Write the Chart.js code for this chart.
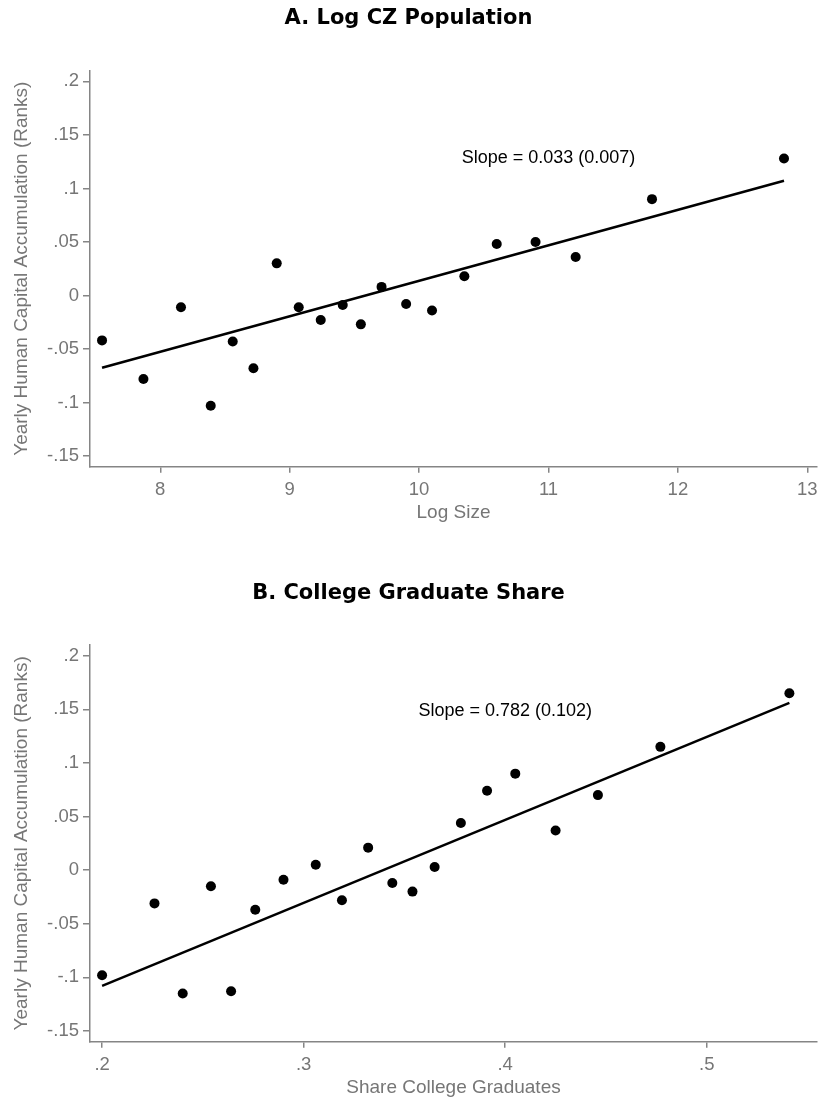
<!DOCTYPE html>
<html>
<head>
<meta charset="utf-8">
<script src="https://cdn.jsdelivr.net/npm/chart.js@4.4.1/dist/chart.umd.min.js"></script>
<style>
  body { margin: 0; background: #fff; width: 818px; height: 1101px; overflow: hidden; position: relative; }
  .box { position: absolute; left: 0; width: 830px; }
</style>
</head>
<body>
<div class="box" style="top:0;height:540px"><canvas id="chartA"></canvas></div>
<div class="box" style="top:540px;height:561px"><canvas id="chartB"></canvas></div>
<script>
// panel A: log CZ population
const popX = [7.55, 7.87, 8.16, 8.39, 8.56, 8.72, 8.90, 9.07, 9.24, 9.41, 9.55, 9.71, 9.90, 10.10, 10.35, 10.60, 10.90, 11.21, 11.80, 12.82];
const popY = [-0.042, -0.078, -0.011, -0.103, -0.043, -0.068, 0.030, -0.011, -0.023, -0.009, -0.027, 0.008, -0.008, -0.014, 0.018, 0.048, 0.050, 0.036, 0.090, 0.128];
const popFitX = [7.55, 12.82];
const popFitY = [-0.0675, 0.1072];
const popTicks = [8, 9, 10, 11, 12, 13];
const popTickLabels = ["8", "9", "10", "11", "12", "13"];

// panel B: college graduate share
const shareX = [0.200, 0.226, 0.240, 0.254, 0.264, 0.276, 0.290, 0.306, 0.319, 0.332, 0.344, 0.354, 0.365, 0.378, 0.391, 0.405, 0.425, 0.446, 0.477, 0.541];
const shareY = [-0.098, -0.031, -0.115, -0.015, -0.113, -0.037, -0.009, 0.005, -0.028, 0.021, -0.012, -0.020, 0.003, 0.044, 0.074, 0.090, 0.037, 0.070, 0.115, 0.165];
const shareFitX = [0.200, 0.541];
const shareFitY = [-0.108, 0.156];
const shareTicks = [0.2, 0.3, 0.4, 0.5];
const shareTickLabels = [".2", ".3", ".4", ".5"];

const yTicks = [-0.15, -0.1, -0.05, 0, 0.05, 0.1, 0.15, 0.2];
const yTickLabels = ["-.15", "-.1", "-.05", "0", ".05", ".1", ".15", ".2"];
const yTitle = "Yearly Human Capital Accumulation (Ranks)";

const SANS = '"Liberation Sans", Arial, sans-serif';
const GREY = "#858585";
const LABEL = "#767676";

const slopeLabel = {
    id: "slopeLabel",
    afterDatasetsDraw(chart, args, opts) {
        const { ctx, scales } = chart;
        ctx.save();
        ctx.font = "18px " + SANS;
        ctx.fillStyle = "#000";
        ctx.textAlign = "center";
        ctx.textBaseline = "middle";
        ctx.fillText(opts.text, scales.x.getPixelForValue(opts.x), scales.y.getPixelForValue(opts.y));
        ctx.restore();
    }
};

function toPoints(xs, ys) {
    return xs.map((x, i) => ({ x: x, y: ys[i] }));
}

function makeChart(id, p) {
    const canvasH = document.getElementById(id).parentNode.clientHeight;
    const axisH = canvasH - p.areaBottom;
    new Chart(document.getElementById(id), {
        type: "scatter",
        data: {
            datasets: [{
                data: toPoints(p.xs, p.ys),
                backgroundColor: "#000",
                borderWidth: 0,
                pointRadius: 5,
                pointHoverRadius: 5,
                order: 1
            }, {
                type: "line",
                data: toPoints(p.fitX, p.fitY),
                borderColor: "#000",
                borderWidth: 2.5,
                pointRadius: 0,
                fill: false,
                order: 2
            }]
        },
        options: {
            responsive: true,
            maintainAspectRatio: false,
            animation: false,
            events: [],
            layout: { padding: { left: 0, right: 13, top: 0, bottom: 0 } },
            plugins: {
                legend: { display: false },
                tooltip: { enabled: false },
                title: {
                    display: true,
                    text: p.title,
                    color: "#000",
                    font: { family: '"DejaVu Sans", sans-serif', size: 21, weight: "bold", lineHeight: 1.2 },
                    padding: { top: p.titleMid - 12.6, bottom: p.areaTop - p.titleMid - 12.6 }
                },
                slopeLabel: { text: p.note, x: p.noteX, y: p.noteY }
            },
            scales: {
                x: {
                    type: "linear",
                    min: p.xMin,
                    max: p.xMax,
                    afterBuildTicks: s => { s.ticks = p.ticks.map(v => ({ value: v })); },
                    afterFit: s => { s.height = axisH; },
                    ticks: {
                        autoSkip: false,
                        maxRotation: 0,
                        padding: 6,
                        color: LABEL,
                        font: { family: SANS, size: 18.5 },
                        callback: (v, i) => p.tickLabels[i]
                    },
                    grid: { drawOnChartArea: false, drawTicks: true, tickLength: 6, color: GREY, lineWidth: 1.5 },
                    border: { display: true, color: GREY, width: 1.5 },
                    title: {
                        display: true,
                        text: p.xTitle,
                        color: LABEL,
                        font: { family: SANS, size: 19, lineHeight: 1.2 },
                        padding: { top: 0, bottom: axisH - 46.3 - 11.4 }
                    }
                },
                y: {
                    type: "linear",
                    min: -0.16,
                    max: 0.21,
                    afterBuildTicks: s => { s.ticks = yTicks.map(v => ({ value: v })); },
                    afterFit: s => { s.width = 90; },
                    ticks: {
                        autoSkip: false,
                        padding: 4,
                        color: LABEL,
                        font: { family: SANS, size: 18.5 },
                        callback: (v, i) => yTickLabels[i]
                    },
                    grid: { drawOnChartArea: false, drawTicks: true, tickLength: 7, color: GREY, lineWidth: 1.5 },
                    border: { display: true, color: GREY, width: 1.5 },
                    title: {
                        display: true,
                        text: yTitle,
                        color: LABEL,
                        font: { family: SANS, size: 19, lineHeight: 1.2 },
                        padding: { top: 10.3, bottom: 0 }
                    }
                }
            }
        },
        plugins: [slopeLabel]
    });
}

makeChart("chartA", {
    title: "A. Log CZ Population",
    xTitle: "Log Size",
    xs: popX, ys: popY, fitX: popFitX, fitY: popFitY,
    ticks: popTicks, tickLabels: popTickLabels,
    xMin: 7.457, xMax: 13.075,
    note: "Slope = 0.033 (0.007)", noteX: 11.0, noteY: 0.128,
    titleMid: 18.3, areaTop: 70.7, areaBottom: 466.7
});

makeChart("chartB", {
    title: "B. College Graduate Share",
    xTitle: "Share College Graduates",
    xs: shareX, ys: shareY, fitX: shareFitX, fitY: shareFitY,
    ticks: shareTicks, tickLabels: shareTickLabels,
    xMin: 0.194, xMax: 0.5547,
    note: "Slope = 0.782 (0.102)", noteX: 0.4, noteY: 0.148,
    titleMid: 54, areaTop: 105, areaBottom: 501.7
});
</script>
</body>
</html>
